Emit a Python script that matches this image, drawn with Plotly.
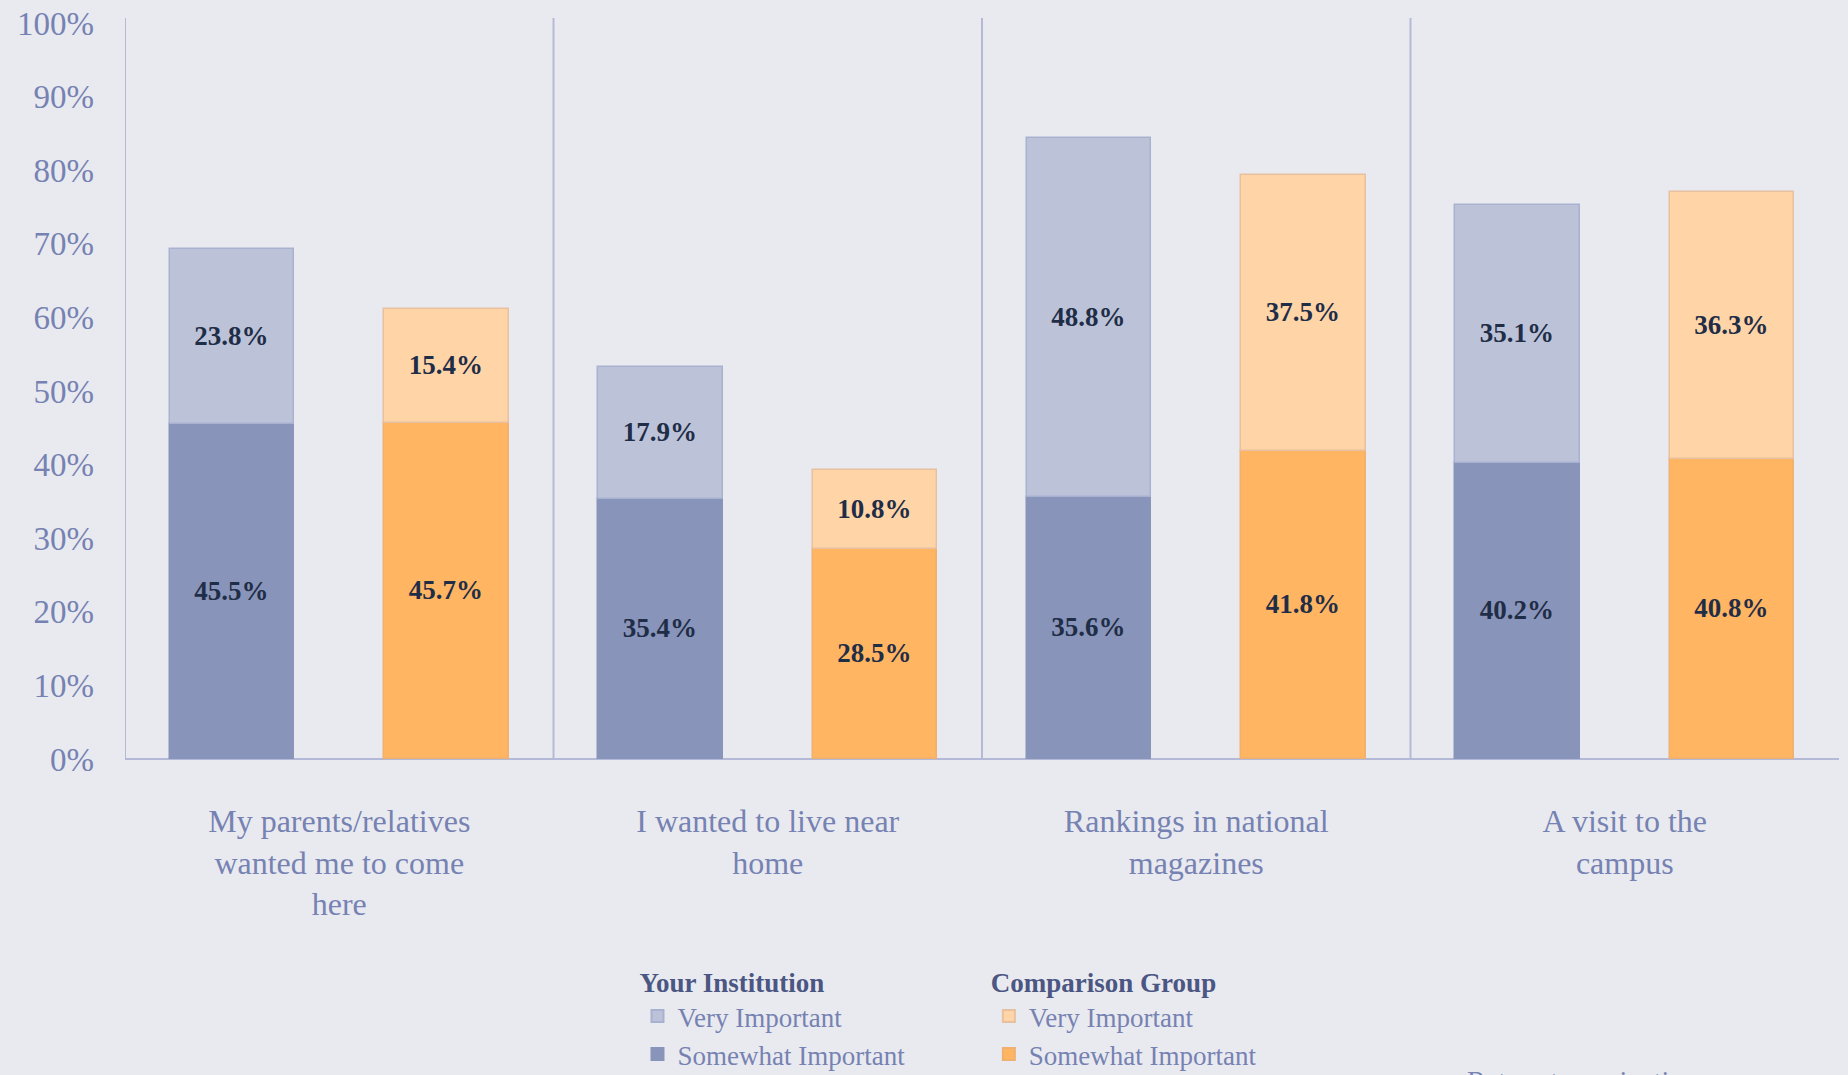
import plotly.graph_objects as go

# Data
categories = ['My parents/relatives<br>wanted me to come<br>here',
              'I wanted to live near<br>home',
              'Rankings in national<br>magazines',
              'A visit to the<br>campus']
inst_somewhat = [45.5, 35.4, 35.6, 40.2]
inst_very = [23.8, 17.9, 48.8, 35.1]
comp_somewhat = [45.7, 28.5, 41.8, 40.8]
comp_very = [15.4, 10.8, 37.5, 36.3]
y_ticks = list(range(0, 101, 10))
y_ticktext = [f'{t}%' for t in y_ticks]

bg = '#e9eaf0'
tick_col = '#7682b2'
lbl_font = dict(family='Liberation Serif', size=27, color='#1f2d47')

pos = list(range(len(categories)))
x_inst = [p - 0.25 for p in pos]
x_comp = [p + 0.25 for p in pos]

fig = go.Figure()


def add_bar(x, y, name, color, line, legend):
    fig.add_trace(go.Bar(
        x=x, y=y, name=name, width=0.29,
        marker=dict(color=color, line=dict(color=line, width=1.5)),
        text=[f'<b>{v:.1f}%</b>' for v in y],
        textposition='inside', insidetextanchor='middle', textangle=0,
        textfont=lbl_font, legend=legend, hoverinfo='skip'))


add_bar(x_inst, inst_somewhat, 'Somewhat Important', '#8894b9', '#8894b9', 'legend')
add_bar(x_inst, inst_very, 'Very Important', '#bcc3d9', '#a9b1d1', 'legend')
add_bar(x_comp, comp_somewhat, 'Somewhat Important', '#ffb562', '#f0b070', 'legend2')
add_bar(x_comp, comp_very, 'Very Important', '#ffd5a8', '#e8c0a0', 'legend2')

# left axis line and group separators
for xs in [-0.5, 0.5, 1.5, 2.5]:
    fig.add_shape(type='line', x0=xs, x1=xs, y0=0, y1=100.7, xref='x', yref='y',
                  line=dict(color='#b3b9d6', width=2), layer='below')

fig.add_annotation(text='Return to navigation', xref='paper', yref='paper',
                   x=0.782, y=-0.41, xanchor='left', yanchor='top', showarrow=False,
                   font=dict(family='Liberation Serif', size=28, color=tick_col))

legend_common = dict(
    xref='paper', yref='paper', yanchor='top', xanchor='left',
    orientation='v', traceorder='reversed', bgcolor='rgba(0,0,0,0)',
    font=dict(family='Liberation Serif', size=27, color=tick_col),
    itemsizing='constant', tracegroupgap=0)

fig.update_layout(
    width=1848, height=1075,
    paper_bgcolor=bg, plot_bgcolor=bg,
    barmode='relative', bargap=0,
    margin=dict(l=125, r=9, t=18, b=316, autoexpand=False),
    font=dict(family='Liberation Serif', color=tick_col),
    uniformtext=dict(mode='show', minsize=10),
    legend=dict(x=0.299, y=-0.267,
                title=dict(text='<b>Your Institution</b>',
                           font=dict(family='Liberation Serif', size=27, color='#4b5683')),
                **legend_common),
    legend2=dict(x=0.504, y=-0.267,
                 title=dict(text='<b>Comparison Group</b>',
                            font=dict(family='Liberation Serif', size=27, color='#4b5683')),
                 **legend_common),
    xaxis=dict(range=[-0.5, 3.5], tickvals=pos, ticktext=categories, tickangle=0,
               showgrid=False, zeroline=False, showline=False, ticks='',
               tickfont=dict(family='Liberation Serif', size=32, color=tick_col),
               ticklabelstandoff=40),
    yaxis=dict(range=[0, 100.7], tickvals=y_ticks, ticktext=y_ticktext,
               showgrid=False, zeroline=True, zerolinecolor='#b3b9d6', zerolinewidth=2,
               showline=False, ticks='',
               tickfont=dict(family='Liberation Serif', size=33, color=tick_col),
               ticklabelstandoff=30),
)

fig.write_html('out.html', config={'displayModeBar': False},
               post_script="document.body.style.margin='0';")
